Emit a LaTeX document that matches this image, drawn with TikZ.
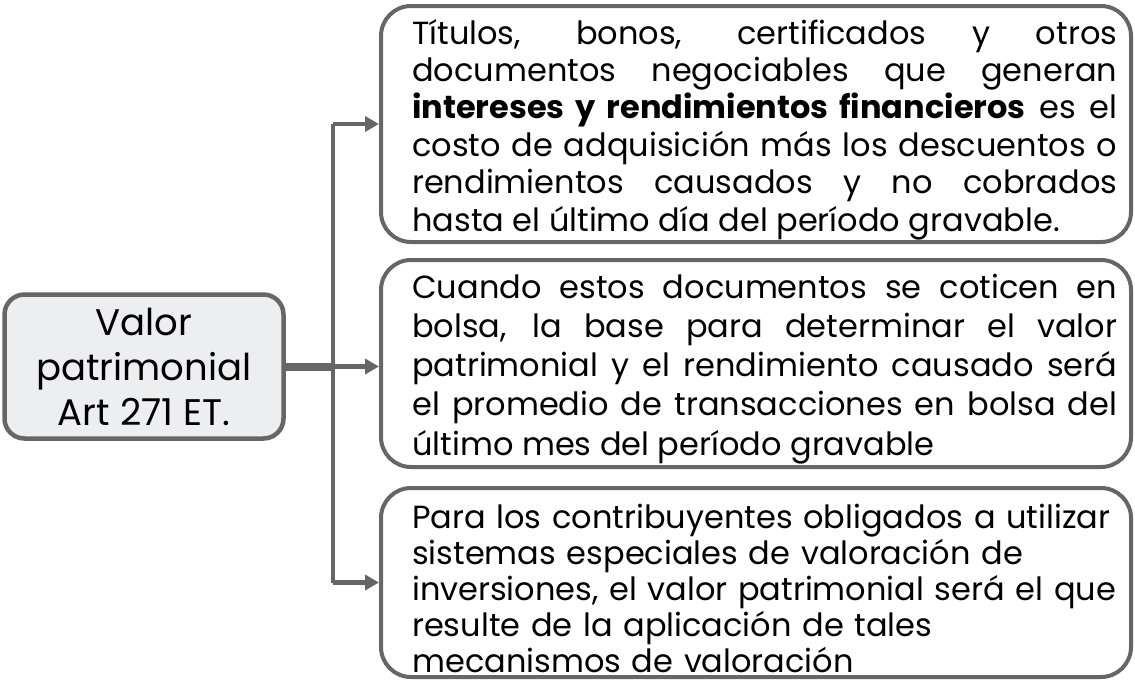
\documentclass[tikz,border=0pt]{standalone}
\usepackage{fontspec}
\setmainfont{Poppins}
\usetikzlibrary{arrows.meta}
\definecolor{edge}{HTML}{666666}
\definecolor{fillgray}{HTML}{EDEEF0}
\begin{document}
\begin{tikzpicture}[x=1pt,y=-1pt,
 rbox/.style={draw=edge, line width=4pt, rounded corners=30pt, minimum width=750pt, inner sep=0pt},
 lbox/.style={draw=edge, line width=4.5pt, fill=fillgray, rounded corners=20pt, minimum width=279pt, minimum height=144pt, inner sep=0pt, align=center, font=\fontsize{37}{45}\selectfont},
 txt/.style={text width=705pt, inner sep=0pt, anchor=base west},
 conn/.style={draw=edge, line width=4.5pt},
 stub/.style={draw=edge, line width=8pt},
 arr/.style={conn, -{Triangle[length=14pt,width=15pt]}}
]
\useasboundingbox (0,0) rectangle (1135,681);
\node[lbox] (lb) at (144,366.5) {Valor\\patrimonial\\Art 271 ET.};
\node[rbox, minimum height=236pt] (b1) at (756,124) {};
\node[rbox, minimum height=207pt] (b2) at (756,363.5) {};
\node[rbox, minimum height=189pt] (b3) at (756,582.5) {};
\node[txt, align=justify, font=\fontsize{32}{37.4}\selectfont] (t1) at (412,44)
 {Títulos, bonos, certificados y otros\linebreak documentos negociables que generan\linebreak \textbf{intereses y rendimientos financieros} es el\linebreak costo de adquisición más los descuentos o\linebreak rendimientos causados y no cobrados\linebreak hasta el último día del período gravable.};
\node[txt, align=justify, font=\fontsize{32}{39.25}\selectfont] (t2) at (412,298)
 {Cuando estos documentos se coticen en\linebreak bolsa, la base para determinar el valor\linebreak patrimonial y el rendimiento causado será\linebreak el promedio de transacciones en bolsa del\linebreak último mes del período gravable};
\node[txt, align=left, font=\fontsize{32}{36}\selectfont] (t3) at (412,528)
 {Para los contribuyentes obligados a utilizar\\ sistemas especiales de valoración de\\ inversiones, el valor patrimonial será el que\\ resulte de la aplicación de tales\\ mecanismos de valoración};
\coordinate (j) at (333,366.5);
\draw[stub] (lb.east) -- (j);
\draw[conn] (j |- b1.west) -- (j |- b3.west);
\draw[arr] (j |- b1.west) -- (b1.west);
\draw[arr] (j) -- (j -| b2.west);
\draw[arr] (j |- b3.west) -- (b3.west);
\end{tikzpicture}
\end{document}
